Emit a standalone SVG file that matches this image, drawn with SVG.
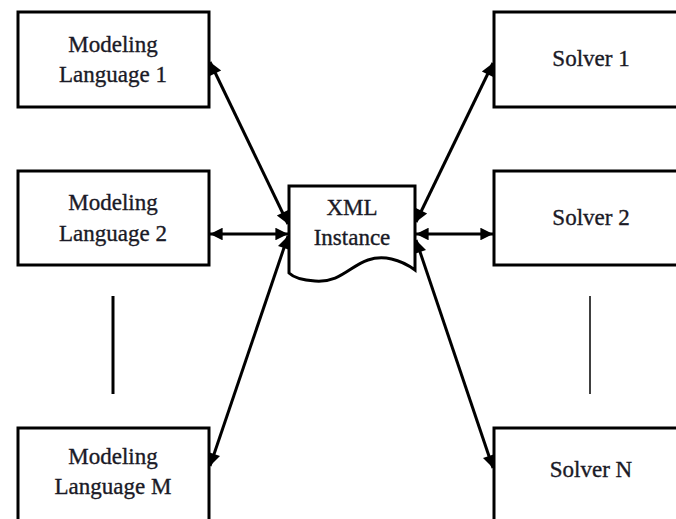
<svg xmlns="http://www.w3.org/2000/svg" width="676" height="519" viewBox="0 0 676 519">
<style>
.box{fill:#fff;stroke:#000;stroke-width:3}
.lbl{font-family:"Liberation Serif","Times New Roman",serif;font-size:23px;fill:#1a1a26;stroke:#1a1a26;stroke-width:0.35;text-anchor:middle}
.con{stroke:#000;stroke-width:3;fill:none;marker-start:url(#ah);marker-end:url(#ah)}
</style>
<defs>
<marker id="ah" viewBox="0 0 10 10" refX="10" refY="5" markerWidth="5" markerHeight="4.2" orient="auto-start-reverse" markerUnits="strokeWidth">
<path d="M0,0 L10,5 L0,10 Z" fill="#000"/>
</marker>
</defs>
<rect width="676" height="519" fill="#fff"/>
<g id="ml1"><rect class="box" x="18" y="12" width="191" height="95"/><text class="lbl" x="113" y="52">Modeling</text><text class="lbl" x="113" y="82">Language 1</text></g>
<g id="ml2"><rect class="box" x="18" y="171" width="191" height="94"/><text class="lbl" x="113" y="210">Modeling</text><text class="lbl" x="113" y="241">Language 2</text></g>
<g id="mlm"><rect class="box" x="18" y="428" width="191" height="100"/><text class="lbl" x="113" y="464">Modeling</text><text class="lbl" x="113" y="494">Language M</text></g>
<g id="s1"><rect class="box" x="494" y="12" width="200" height="95"/><text class="lbl" x="591" y="66">Solver 1</text></g>
<g id="s2"><rect class="box" x="494" y="171" width="200" height="94"/><text class="lbl" x="591" y="225">Solver 2</text></g>
<g id="sn"><rect class="box" x="494" y="428" width="200" height="100"/><text class="lbl" x="591" y="477">Solver N</text></g>
<g id="xml"><path d="M289,186 H415 V270 C400,259 383,255 368,260 C350,266 340,283 315,281 C300,280 292,276 289,273 Z" fill="#fff" stroke="#000" stroke-width="3"/><text class="lbl" x="352" y="215">XML</text><text class="lbl" x="352" y="245">Instance</text></g>
<g id="connectors">
<line class="con" x1="288" y1="224" x2="210" y2="62"/>
<line class="con" x1="288" y1="234" x2="210" y2="234"/>
<line class="con" x1="288" y1="236" x2="210" y2="466"/>
<line class="con" x1="416" y1="222" x2="493" y2="63"/>
<line class="con" x1="416" y1="234" x2="493" y2="234"/>
<line class="con" x1="416" y1="240" x2="493" y2="468"/>
</g>
<line x1="113" y1="296" x2="113" y2="394" stroke="#000" stroke-width="3"/>
<line x1="590" y1="296" x2="590" y2="394" stroke="#000" stroke-width="1.5"/>
</svg>
